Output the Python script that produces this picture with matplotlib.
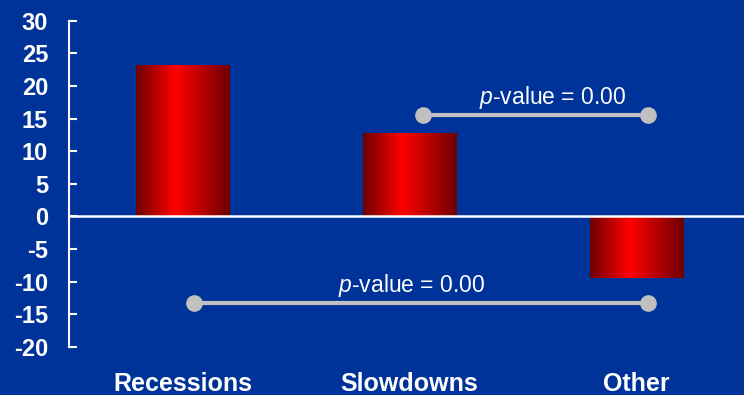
import numpy as np
import matplotlib
matplotlib.use("Agg")
import matplotlib.pyplot as plt
from matplotlib.colors import LinearSegmentedColormap

categories = ["Recessions", "Slowdowns", "Other"]
values = [23.0, 12.6, -9.4]
yticks = [-20, -15, -10, -5, 0, 5, 10, 15, 20, 25, 30]

# p-value brackets: (x start, x end, y level, label x, label)
bracket_top = (1.06, 2.05, 15.5, 1.63, "$p$-value = 0.00")
bracket_bottom = (0.05, 2.05, -13.3, 1.01, "$p$-value = 0.00")

bg = "#003399"
grey = "#c0c0c0"
plt.rcParams["font.family"] = ["Liberation Sans", "DejaVu Sans"]
plt.rcParams["mathtext.fontset"] = "custom"
plt.rcParams["mathtext.it"] = "Liberation Sans:italic"

fig = plt.figure(figsize=(7.44, 3.95), dpi=100, facecolor=bg)
ax = fig.add_axes([0.0927, 0.1215, 0.9073, 0.8261])
ax.set_facecolor(bg)

# horizontal shading for the bars: dark edges, bright red just left of centre
shade = LinearSegmentedColormap.from_list(
    "shade", [(0, "#6e0000"), (0.42, "#ff0000"), (1, "#6e0000")])
grad = np.linspace(0, 1, 256).reshape(1, -1)
width = 0.41
for i, v in enumerate(values):
    ax.imshow(grad, cmap=shade, aspect="auto", interpolation="bilinear",
              extent=[i - width / 2, i + width / 2, min(0, v), max(0, v)], zorder=2)

ax.axhline(0, color="white", lw=1.8, zorder=3)

for x0, x1, y, tx, lab in [bracket_top, bracket_bottom]:
    ax.plot([x0, x1], [y, y], color=grey, lw=3, marker="o", ms=11,
            solid_capstyle="round", zorder=4)
    ax.text(tx, y + 1.7, lab, color="white", fontsize=16.5,
            ha="center", va="baseline")

ax.set_xlim(-0.5, 2.474)
ax.set_ylim(-20, 30)
ax.set_yticks(yticks)
ax.set_yticklabels([str(t) for t in yticks])
ax.set_xticks(range(len(categories)))
ax.set_xticklabels(categories)

for s in ["top", "right", "bottom"]:
    ax.spines[s].set_visible(False)
ax.spines["left"].set_color("white")
ax.spines["left"].set_linewidth(1.5)
ax.tick_params(axis="y", direction="in", length=6, width=1.5, color="white",
               labelcolor="white", labelsize=17, pad=15)
ax.tick_params(axis="x", length=0, labelcolor="white", labelsize=18, pad=18)
for lab in ax.get_yticklabels() + ax.get_xticklabels():
    lab.set_fontweight("bold")

fig.savefig("out.png", dpi=100, facecolor=bg)
